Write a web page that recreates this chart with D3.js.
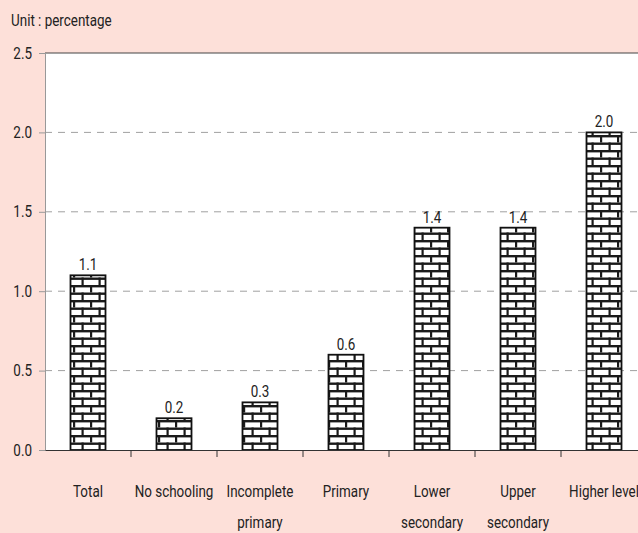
<!DOCTYPE html>
<html>
<head>
<meta charset="utf-8">
<script src="https://cdn.jsdelivr.net/npm/d3@7"></script>
<style>
  body { margin: 0; background: #fde0d9; }
  text { font-family: Roboto, "DejaVu Sans", sans-serif; fill: #222; }
</style>
</head>
<body>
<div id="chart"></div>
<script>
// Categories and values
const categories = ["Total", "No schooling", "Incomplete primary", "Primary", "Lower secondary", "Upper secondary", "Higher level"];
const labelLines = [["Total"], ["No schooling"], ["Incomplete", "primary"], ["Primary"], ["Lower", "secondary"], ["Upper", "secondary"], ["Higher level"]];
const values = [1.1, 0.2, 0.3, 0.6, 1.4, 1.4, 2.0];
const yTicks = [0, 0.5, 1.0, 1.5, 2.0, 2.5];

const width = 638, height = 533;
const margin = { top: 53, right: -9, bottom: 83, left: 45 };
const squeeze = 0.84;   // fake condensed font
const fs = "16px";

const svg = d3.select("#chart").append("svg")
    .attr("width", width)
    .attr("height", height);

// draws a horizontally squeezed label
function label(parent, x, y, txt, anchor) {
    return parent.append("text")
        .attr("transform", `translate(${x},${y}) scale(${squeeze},1)`)
        .attr("text-anchor", anchor || "middle")
        .style("font-size", fs)
        .text(txt);
}

// brick pattern
const defs = svg.append("defs");
const pat = defs.append("pattern")
    .attr("id", "brick")
    .attr("patternUnits", "userSpaceOnUse")
    .attr("width", 17)
    .attr("height", 15);
pat.append("rect").attr("width", 17).attr("height", 15).attr("fill", "#fff");
const mortar = "#1a1a1a";
pat.append("rect").attr("x", 0).attr("y", 0).attr("width", 17).attr("height", 2.4).attr("fill", mortar);
pat.append("rect").attr("x", 0).attr("y", 7.5).attr("width", 17).attr("height", 2.4).attr("fill", mortar);
pat.append("rect").attr("x", 5).attr("y", 0).attr("width", 2.2).attr("height", 7.5).attr("fill", mortar);
pat.append("rect").attr("x", 13.5).attr("y", 7.5).attr("width", 2.2).attr("height", 7.5).attr("fill", mortar);

const x = d3.scaleBand()
    .domain(categories)
    .range([margin.left, width - margin.right])
    .paddingInner(0)
    .paddingOuter(0);

const y = d3.scaleLinear()
    .domain([0, 2.5])
    .range([height - margin.bottom, margin.top]);

// plot background
svg.append("rect")
    .attr("x", margin.left)
    .attr("y", margin.top)
    .attr("width", width - margin.left)
    .attr("height", y(0) - margin.top)
    .attr("fill", "#fff");

// gridlines
svg.append("g")
    .selectAll("line")
    .data(yTicks.filter(d => d > 0 && d < 2.5))
    .enter().append("line")
    .attr("x1", margin.left)
    .attr("x2", width)
    .attr("y1", d => y(d))
    .attr("y2", d => y(d))
    .attr("stroke", "#a0a0a0")
    .attr("stroke-dasharray", "7,6");

// top border
svg.append("line")
    .attr("x1", margin.left).attr("x2", width)
    .attr("y1", y(2.5)).attr("y2", y(2.5))
    .attr("stroke", "#444");

// y axis
const yAxis = svg.append("g")
    .attr("transform", `translate(${margin.left},0)`)
    .call(d3.axisLeft(y).tickValues(yTicks).tickFormat("").tickSize(6));
yAxis.select(".domain").attr("stroke", "#999");
yAxis.selectAll(".tick line").attr("stroke", "#999");
const yl = svg.append("g");
yTicks.forEach(t => label(yl, 32, y(t) + 5.5, d3.format(".1f")(t), "end"));

// bars
svg.selectAll(".bar")
    .data(values)
    .enter().append("rect")
    .attr("class", "bar")
    .attr("x", (d, i) => x(categories[i]) + x.bandwidth() / 2 - 17.5)
    .attr("y", d => y(d))
    .attr("width", 35)
    .attr("height", d => y(0) - y(d))
    .attr("fill", "url(#brick)")
    .attr("stroke", "#111")
    .attr("stroke-width", 1.8);

// value labels
const vl = svg.append("g");
values.forEach((v, i) => label(vl, x(categories[i]) + x.bandwidth() / 2, y(v) - 5, v.toFixed(1)));

// x axis
const xAxis = svg.append("g")
    .attr("transform", `translate(0,${y(0)})`)
    .call(d3.axisBottom(x).tickSize(0).tickFormat(""));
xAxis.select(".domain").attr("stroke", "#333");
svg.append("g")
    .selectAll("line")
    .data(categories.slice(1))
    .enter().append("line")
    .attr("x1", d => x(d)).attr("x2", d => x(d))
    .attr("y1", y(0)).attr("y2", y(0) + 7)
    .attr("stroke", "#333");

// category labels
const cl = svg.append("g");
labelLines.forEach((lines, i) => {
    lines.forEach((ln, j) => {
        let cx = x(categories[i]) + x.bandwidth() / 2;
        label(cl, cx, 497 + j * 31, ln);
    });
});

// unit
label(svg, 11, 26, "Unit : percentage", "start");
</script>
</body>
</html>
